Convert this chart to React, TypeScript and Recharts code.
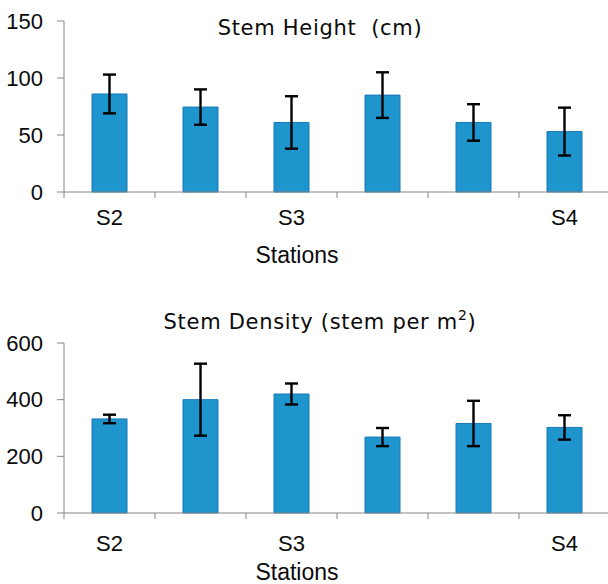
import { BarChart, Bar, XAxis, YAxis, ErrorBar } from "recharts";

// ─── Data ─────────────────────────────────────────────────────────────────────
const stationLabels = ["S2", "", "S3", "", "", "S4"];

const heightMean = [86, 74.5, 61, 85, 61, 53];
const heightErr = [17, 15.5, 23, 20, 16, 21];
const heightTicks = [0, 50, 100, 150];

const densityMean = [332, 400, 420, 268, 316, 302];
const densityErr = [15, 127, 37, 32, 80, 43];
const densityTicks = [0, 200, 400, 600];

// ─── Layout / style ───────────────────────────────────────────────────────────
const CHART_W = 620;
const Y_AXIS_W = 64;
const MARGIN_R = 10;
const PLOT_W = CHART_W - Y_AXIS_W - MARGIN_R;
const BAND = PLOT_W / stationLabels.length;

const AXIS_GREY = "#868686";
const BAR_FILL = "#1F95CE";
const BAR_EDGE = "#1878B6";
const INK = "#0a0a0a";
const TICK_FONT = "'Liberation Sans', Arial, sans-serif";
const TITLE_FONT = "'DejaVu Sans', Verdana, sans-serif";

const buildRows = (mean: number[], err: number[]) =>
  stationLabels.map((_, i) => ({ id: i, mean: mean[i], err: err[i] }));

const heightRows = buildRows(heightMean, heightErr);
const densityRows = buildRows(densityMean, densityErr);

// Excel-style category axis: tick marks sit between bars, labels under bars
function StationTick(props: any) {
  const { x, y, payload, labelDy } = props;
  const idx = payload.value as number;
  const left = x - BAND / 2;
  const right = x + BAND / 2;
  return (
    <g>
      <line x1={left} x2={left} y1={y} y2={y + 6} stroke={AXIS_GREY} />
      {idx === stationLabels.length - 1 && (
        <line x1={right} x2={right} y1={y} y2={y + 6} stroke={AXIS_GREY} />
      )}
      <text
        x={x}
        y={y + labelDy}
        textAnchor="middle"
        fontFamily={TICK_FONT}
        fontSize={22}
        fill={INK}
      >
        {stationLabels[idx]}
      </text>
    </g>
  );
}

type PanelProps = {
  rows: { id: number; mean: number; err: number }[];
  ticks: number[];
  top: number;
  height: number;
  marginTop: number;
  plotHeight: number;
  labelDy: number;
  titleY: number;
  stationsY: number;
  title: React.ReactNode;
};

function StationPanel({
  rows,
  ticks,
  top,
  height,
  marginTop,
  plotHeight,
  labelDy,
  titleY,
  stationsY,
  title,
}: PanelProps) {
  const xAxisH = height - marginTop - plotHeight;
  return (
    <div style={{ position: "absolute", left: 0, top }}>
      <BarChart
        width={CHART_W}
        height={height}
        data={rows}
        margin={{ top: marginTop, right: MARGIN_R, left: 0, bottom: 0 }}
      >
        <XAxis
          dataKey="id"
          type="category"
          height={xAxisH}
          interval={0}
          tickSize={0}
          tickMargin={0}
          tickLine={false}
          axisLine={{ stroke: AXIS_GREY }}
          tick={<StationTick labelDy={labelDy} />}
        />
        <YAxis
          width={Y_AXIS_W}
          domain={[ticks[0], ticks[ticks.length - 1]]}
          ticks={ticks}
          interval={0}
          tickSize={7}
          tickMargin={14}
          axisLine={{ stroke: AXIS_GREY }}
          tickLine={{ stroke: AXIS_GREY }}
          tick={{ fontFamily: TICK_FONT, fontSize: 22, fill: INK }}
        />
        <Bar
          dataKey="mean"
          fill={BAR_FILL}
          stroke={BAR_EDGE}
          strokeWidth={1}
          barSize={35}
          isAnimationActive={false}
        >
          <ErrorBar
            dataKey="err"
            width={6.5}
            stroke="#000"
            strokeWidth={2.4}
            isAnimationActive={false}
          />
        </Bar>
        <text
          x={320}
          y={titleY}
          textAnchor="middle"
          fontFamily={TITLE_FONT}
          fontSize={21}
          letterSpacing={0.7}
          fill={INK}
        >
          {title}
        </text>
        <text
          x={297}
          y={stationsY}
          textAnchor="middle"
          fontFamily={TICK_FONT}
          fontSize={23}
          fill={INK}
        >
          Stations
        </text>
      </BarChart>
    </div>
  );
}

export default function App() {
  return (
    <div
      style={{
        position: "absolute",
        left: 0,
        top: 0,
        width: 608,
        height: 584,
        overflow: "hidden",
        background: "#fff",
      }}
    >
      <StationPanel
        rows={heightRows}
        ticks={heightTicks}
        top={0}
        height={270}
        marginTop={21}
        plotHeight={171}
        labelDy={33}
        titleY={35}
        stationsY={263}
        title={"Stem Height\u00a0 (cm)"}
      />
      <StationPanel
        rows={densityRows}
        ticks={densityTicks}
        top={270}
        height={314}
        marginTop={73}
        plotHeight={170}
        labelDy={38}
        titleY={59}
        stationsY={310}
        title={
          <>
            Stem Density (stem per m
            <tspan fontSize={14} dy={-9}>
              2
            </tspan>
            <tspan dy={9}>)</tspan>
          </>
        }
      />
    </div>
  );
}
